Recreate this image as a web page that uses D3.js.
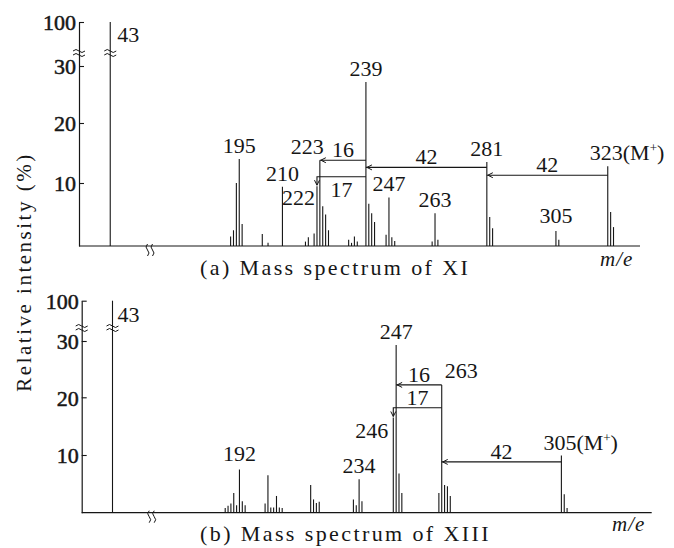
<!DOCTYPE html>
<html lang="en">
<head>
  <meta charset="UTF-8">
  <title>Mass spectra of XI and XIII</title>
  <script src="https://d3js.org/d3.v7.min.js"></script>
  <style>
    body { margin: 0; padding: 0; background: #fff; }
    svg { display: block; }
    text { font-family: "Liberation Serif", "DejaVu Serif", serif; fill: #161616; }
    .peak, .axis-line, .arrow, .brk { stroke: #161616; fill: none; }
  </style>
</head>
<body>
  <svg width="674" height="548"></svg>
  <script>
    // peaks: [m/e, relative intensity %]
    const peaksA = [
      [43, 100],
      [192, 1.5], [193, 2.5], [194, 10], [195, 14], [196, 3.5],
      [203, 1.9], [205, 0.5], [210, 9.4],
      [218, 0.7], [219, 1.4], [221, 2.0], [222, 9.5], [223, 13.8], [224, 6.3], [225, 5.0], [226, 2.5],
      [233, 1.0], [234, 0.5], [235, 1.5], [236, 0.7],
      [239, 27.2], [240, 6.7], [241, 5.2], [242, 3.8],
      [246, 1.8], [247, 7.7], [248, 1.4], [249, 0.8],
      [262, 0.7], [263, 5.2], [264, 1.0],
      [281, 13.5], [282, 4.6], [283, 2.8],
      [305, 2.4], [306, 1.0],
      [323, 12.8], [324, 5.4], [325, 3.0]
    ];
    const peaksB = [
      [43, 100],
      [187, 0.8], [188, 1.2], [189, 1.6], [190, 3.4], [191, 1.3], [192, 7.5], [193, 2.0], [194, 1.3],
      [201, 1.6], [202, 6.5], [203, 0.9], [204, 0.9], [205, 2.9], [206, 0.9], [207, 0.8],
      [217, 4.8], [218, 2.3], [219, 1.7], [220, 1.9],
      [232, 2.3], [233, 1.3], [234, 5.8], [235, 2.0],
      [246, 16.5], [247, 29.3], [248, 6.8], [249, 3.4],
      [262, 3.4], [263, 22.2], [264, 4.8], [265, 4.6], [266, 2.9],
      [305, 9.9], [306, 3.2], [307, 0.8]
    ];

    const labelsA = [43, 195, 210, 222, 223, 239, 247, 263, 281, 305, 323];
    const labelsB = [43, 192, 234, 246, 247, 263, 305];

    // neutral losses: from -> to, drawn at a given intensity level
    const lossesA = [
      { from: 239, to: 223, level: 13.8, text: "16" },
      { from: 239, to: 222, level: 11.05, text: "17", down: true },
      { from: 281, to: 239, level: 12.6, text: "42" },
      { from: 323, to: 281, level: 11.3, text: "42" }
    ];
    const lossesB = [
      { from: 263, to: 247, level: 22.2, text: "16" },
      { from: 263, to: 246, level: 18.2, text: "17", down: true },
      { from: 305, to: 263, level: 8.8, text: "42" }
    ];

    const yTicks = [10, 20, 30, 100];
    const molecularIon = { a: 323, b: 305 };

    const svg = d3.select("svg");
    svg.append("rect").attr("width", 674).attr("height", 548).attr("fill", "#fff");

    function panel(opt) {
      const g = svg.append("g");
      const y = d3.scaleLinear().domain([0, 10, 20, 30, 100]).range(opt.yRange);
      const xl = d3.scaleLinear().domain([32, 57]).range([opt.x0, opt.xBreak]);
      const xr = d3.scaleLinear().domain(opt.rightDomain).range([opt.xBreak, opt.xEnd]);
      const x = m => m < 100 ? xl(m) : xr(m);
      const base = y(0);

      // y axis with inward ticks
      const ax = g.append("g")
        .attr("transform", `translate(${opt.x0},0)`)
        .call(d3.axisLeft(y).tickValues(yTicks).tickSizeInner(-5).tickSizeOuter(0).tickPadding(3));
      ax.select(".domain").attr("stroke", "#161616").attr("stroke-width", 1.2);
      ax.selectAll(".tick line").attr("stroke", "#161616").attr("stroke-width", 1.1);
      ax.selectAll(".tick text")
        .attr("font-size", 22).attr("fill", "#161616").attr("dy", "0.36em")
        .attr("stroke", "#161616").attr("stroke-width", 0.5);

      // baseline
      g.append("line").attr("class", "axis-line")
        .attr("x1", opt.x0).attr("x2", opt.xEnd)
        .attr("y1", base).attr("y2", base).attr("stroke-width", 1.2);

      // peaks
      g.selectAll("line.peak").data(opt.peaks).join("line")
        .attr("class", "peak")
        .attr("x1", d => x(d[0])).attr("x2", d => x(d[0]))
        .attr("y1", base).attr("y2", d => y(d[1]))
        .attr("stroke-width", 1.1);

      // break marks
      const yBrk = y(30) - 13;
      [opt.x0, x(43)].forEach(cx => {
        [-2, 2].forEach(o => {
          g.append("path").attr("class", "brk").attr("stroke-width", 1)
            .attr("d", `M${cx - 6},${yBrk + o} q3,-3 6,0 t6,0`);
        });
      });
      [-2.5, 2.5].forEach(o => {
        g.append("path").attr("class", "brk").attr("stroke-width", 1)
          .attr("d", `M${opt.xBreak + o},${base - 2} q-3,3 0,6 t0,6`);
      });

      // losses
      opt.losses.forEach(l => {
        const yl = y(l.level), xf = x(l.from), xt = x(l.to);
        let d = `M${xf},${yl}H${xt}`;
        let head;
        if (l.down) {
          const yt = y(opt.peaks.find(p => p[0] === l.to)[1]);
          d += `V${yt - 1}`;
          head = `M${xt - 2.5},${yt - 6}L${xt},${yt - 1}L${xt + 2.5},${yt - 6}`;
        } else {
          head = `M${xt + 6},${yl - 2.5}L${xt + 1},${yl}L${xt + 6},${yl + 2.5}`;
        }
        g.append("path").attr("class", "arrow").attr("stroke-width", 1.1).attr("d", d);
        g.append("path").attr("class", "arrow").attr("stroke-width", 1).attr("d", head);
        g.append("text")
          .attr("x", (xf + xt) / 2).attr("y", l.below ? yl + 20 : yl - 3)
          .attr("text-anchor", "middle").attr("font-size", 22)
          .text(l.text);
      });

      // peak labels
      opt.labels.forEach(m => {
        const p = opt.peaks.find(q => q[0] === m);
        const pl = Object.assign({ dx: 0, dy: -6, anchor: "middle" }, opt.place[m] || {});
        const t = g.append("text")
          .attr("x", x(m) + pl.dx).attr("y", y(p[1]) + pl.dy)
          .attr("text-anchor", pl.anchor).attr("font-size", 22);
        if (m === opt.mIon) {
          t.append("tspan").text(m + "(M");
          t.append("tspan").attr("font-size", 13).attr("dy", -8).text("+");
          t.append("tspan").attr("dy", 8).text(")");
        } else {
          t.text(m);
        }
      });

      // caption and m/e
      g.append("text").attr("x", 200).attr("y", opt.capY)
        .attr("font-size", 22).attr("letter-spacing", 2.4)
        .text(opt.caption);
      g.append("text").attr("x", opt.meX).attr("y", opt.meY)
        .attr("font-size", 21).attr("font-style", "italic").attr("letter-spacing", 1)
        .text("m/e");
    }

    // in (a) the "17" sits under its arrow
    lossesA[1].below = true;

    panel({
      peaks: peaksA, labels: labelsA, losses: lossesA, mIon: molecularIon.a,
      yRange: [246, 183, 123, 66, 22],
      x0: 79, xBreak: 150, xEnd: 640, rightDomain: [164, 334.2],
      place: {
        43: { dx: 7, dy: 20, anchor: "start" },
        222: { dx: -2, dy: 19, anchor: "end" },
        223: { dx: 4, dy: -6, anchor: "end" },
        305: { dy: -8 },
        323: { dx: -18, dy: -6, anchor: "start" }
      },
      caption: "(a) Mass spectrum of XI", capY: 275, meX: 600, meY: 266
    });

    panel({
      peaks: peaksB, labels: labelsB, losses: lossesB, mIon: molecularIon.b,
      yRange: [512.7, 455, 397.3, 341, 300.7],
      x0: 81.7, xBreak: 151.7, xEnd: 651.7, rightDomain: [161.2, 336.7],
      place: {
        43: { dx: 5, dy: 21, anchor: "start" },
        192: { dy: -8 },
        246: { dx: -5, dy: 21, anchor: "end" },
        263: { dx: 3, dy: -7, anchor: "start" },
        305: { dx: -18, dy: -6, anchor: "start" }
      },
      caption: "(b) Mass spectrum of XIII", capY: 541, meX: 612, meY: 531
    });

    // shared y label
    svg.append("text")
      .attr("transform", "translate(31,272) rotate(-90)")
      .attr("text-anchor", "middle").attr("font-size", 21).attr("letter-spacing", 2.5)
      .text("Relative intensity (%)");
  </script>
</body>
</html>
